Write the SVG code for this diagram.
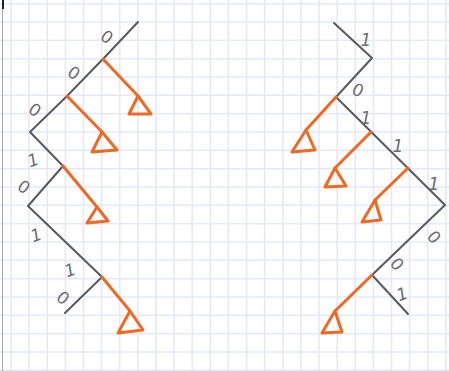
<svg xmlns="http://www.w3.org/2000/svg" width="449" height="371" viewBox="0 0 449 371">
<defs>
<style>
.grid line{stroke:#e6e8f8;stroke-width:1.6}
.gray{fill:none;stroke:#58595f;stroke-width:2;stroke-linecap:round;stroke-linejoin:round}
.orange{fill:none;stroke:#ee6a22;stroke-width:3;stroke-linecap:round;stroke-linejoin:round}
.lbl{font-family:"DejaVu Sans",sans-serif;font-size:17px;fill:#6c6c72;text-anchor:middle;dominant-baseline:central}
.one{font-style:oblique}
</style>
</defs>
<rect width="449" height="371" fill="#ffffff"/>
<g class="grid">
<line x1="11" y1="0" x2="11" y2="371"/><line x1="29.1" y1="0" x2="29.1" y2="371"/><line x1="47.2" y1="0" x2="47.2" y2="371"/><line x1="65.4" y1="0" x2="65.4" y2="371"/><line x1="83.5" y1="0" x2="83.5" y2="371"/><line x1="101.6" y1="0" x2="101.6" y2="371"/><line x1="119.7" y1="0" x2="119.7" y2="371"/><line x1="137.8" y1="0" x2="137.8" y2="371"/><line x1="156" y1="0" x2="156" y2="371"/><line x1="174.1" y1="0" x2="174.1" y2="371"/><line x1="192.2" y1="0" x2="192.2" y2="371"/><line x1="210.3" y1="0" x2="210.3" y2="371"/><line x1="228.4" y1="0" x2="228.4" y2="371"/><line x1="246.6" y1="0" x2="246.6" y2="371"/><line x1="264.7" y1="0" x2="264.7" y2="371"/><line x1="282.8" y1="0" x2="282.8" y2="371"/><line x1="300.9" y1="0" x2="300.9" y2="371"/><line x1="319" y1="0" x2="319" y2="371"/><line x1="337.2" y1="0" x2="337.2" y2="371"/><line x1="355.3" y1="0" x2="355.3" y2="371"/><line x1="373.4" y1="0" x2="373.4" y2="371"/><line x1="391.5" y1="0" x2="391.5" y2="371"/><line x1="409.6" y1="0" x2="409.6" y2="371"/><line x1="427.8" y1="0" x2="427.8" y2="371"/><line x1="445.9" y1="0" x2="445.9" y2="371"/>
<line x1="0" y1="3.7" x2="449" y2="3.7"/><line x1="0" y1="22" x2="449" y2="22"/><line x1="0" y1="40.3" x2="449" y2="40.3"/><line x1="0" y1="58.7" x2="449" y2="58.7"/><line x1="0" y1="77" x2="449" y2="77"/><line x1="0" y1="95.3" x2="449" y2="95.3"/><line x1="0" y1="113.7" x2="449" y2="113.7"/><line x1="0" y1="132" x2="449" y2="132"/><line x1="0" y1="150.3" x2="449" y2="150.3"/><line x1="0" y1="168.7" x2="449" y2="168.7"/><line x1="0" y1="187" x2="449" y2="187"/><line x1="0" y1="205.3" x2="449" y2="205.3"/><line x1="0" y1="223.7" x2="449" y2="223.7"/><line x1="0" y1="242" x2="449" y2="242"/><line x1="0" y1="260.3" x2="449" y2="260.3"/><line x1="0" y1="278.7" x2="449" y2="278.7"/><line x1="0" y1="297" x2="449" y2="297"/><line x1="0" y1="315.3" x2="449" y2="315.3"/><line x1="0" y1="333.7" x2="449" y2="333.7"/><line x1="0" y1="352" x2="449" y2="352"/><line x1="0" y1="370.3" x2="449" y2="370.3"/>
</g>
<line x1="2.5" y1="0" x2="2.5" y2="371" stroke="#a8a8ac" stroke-width="1"/>
<line x1="3" y1="0" x2="3" y2="9" stroke="#222" stroke-width="2"/>

<g id="connectors">
<polyline class="gray" points="138,22 103,59 67,96 30,132 63,166 28,206 102,277 65,313"/>
<polyline class="gray" points="334,23 372,58 336,97 445,205 372,275 408,314"/>
<line class="orange" x1="103" y1="59" x2="138" y2="96"/>
<line class="orange" x1="67" y1="96" x2="102" y2="132"/>
<line class="orange" x1="63" y1="166" x2="97" y2="207"/>
<line class="orange" x1="102" y1="277" x2="130" y2="311"/>
<line class="orange" x1="336" y1="97" x2="306" y2="130"/>
<line class="orange" x1="371" y1="132" x2="335" y2="168"/>
<line class="orange" x1="408" y1="168" x2="375" y2="200"/>
<line class="orange" x1="372" y1="275" x2="335" y2="311"/>
</g>

<g id="left-tree-labels">
<text class="lbl" x="107" y="37" transform="rotate(35 107 37)">0</text>
<text class="lbl" x="74" y="73" transform="rotate(35 74 73)">0</text>
<text class="lbl" x="35" y="110" transform="rotate(35 35 110)">0</text>
<text class="lbl one" x="33" y="160" transform="rotate(-20 33 160)">1</text>
<text class="lbl" x="24" y="187" transform="rotate(35 24 187)">0</text>
<text class="lbl one" x="36" y="235" transform="rotate(-20 36 235)">1</text>
<text class="lbl one" x="70" y="270" transform="rotate(-20 70 270)">1</text>
<text class="lbl" x="63" y="298" transform="rotate(40 63 298)">0</text>
</g>
<g id="right-tree-labels">
<text class="lbl one" x="366" y="40">1</text>
<text class="lbl" x="358" y="90" transform="rotate(25 358 90)">0</text>
<text class="lbl one" x="366" y="118">1</text>
<text class="lbl one" x="398" y="146">1</text>
<text class="lbl one" x="434" y="184">1</text>
<text class="lbl" x="434" y="237" transform="rotate(50 434 237)">0</text>
<text class="lbl" x="397" y="264" transform="rotate(50 397 264)">0</text>
<text class="lbl one" x="402" y="294" transform="rotate(-20 402 294)">1</text>
</g>

<g id="subtree-1"><polygon class="orange" points="138,96 129,114 151,114"/></g>
<g id="subtree-2"><polygon class="orange" points="102,132 92,152 117,150"/></g>
<g id="subtree-3"><polygon class="orange" points="97,207 87,223 108,221"/></g>
<g id="subtree-4"><polygon class="orange" points="130,311 118,333 143,330"/></g>
<g id="subtree-5"><polygon class="orange" points="306,130 292,152 315,150"/></g>
<g id="subtree-6"><polygon class="orange" points="335,168 325,187 346,186"/></g>
<g id="subtree-7"><polygon class="orange" points="375,200 362,222 381,220"/></g>
<g id="subtree-8"><polygon class="orange" points="335,311 322,333 342,332"/></g>
</svg>
